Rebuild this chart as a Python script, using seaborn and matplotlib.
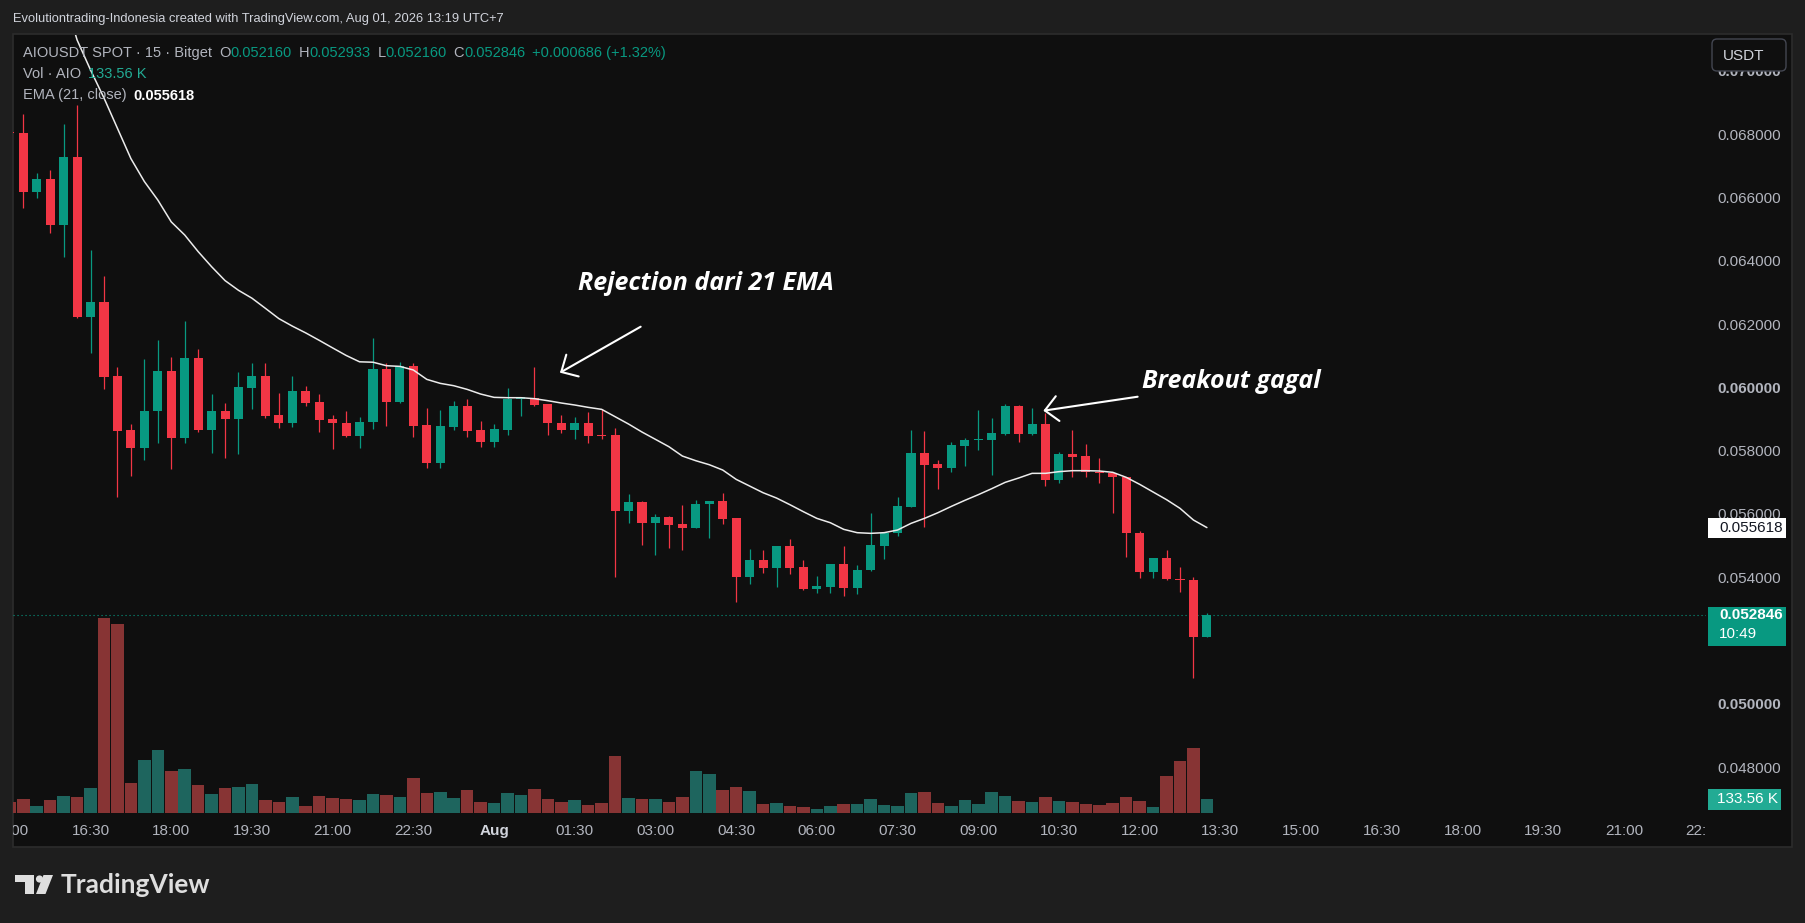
import numpy as np
import pandas as pd
import matplotlib
matplotlib.use("Agg")
import matplotlib.pyplot as plt
import seaborn as sns
from matplotlib.patches import Rectangle, FancyBboxPatch, Polygon, Circle

# ---------------- data (AIOUSDT 15m, Bitget) ----------------
start_time = "2026-07-31 15:00"
opens = [0.068110, 0.068074, 0.066231, 0.066631, 0.065177, 0.067336, 0.062281, 0.062745, 0.060406, 0.058700,
         0.058142, 0.059301, 0.060564, 0.058458, 0.060975, 0.058700, 0.059301, 0.059048, 0.060038, 0.060417,
         0.059174, 0.058911, 0.059933, 0.059575, 0.059048, 0.058932, 0.058521, 0.058943, 0.060628, 0.059596,
         0.060723, 0.058858, 0.057647, 0.058806, 0.059459, 0.058700, 0.058332, 0.058700, 0.059690, 0.059722,
         0.059522, 0.058932, 0.058700, 0.058911, 0.058543, 0.058543, 0.056152, 0.056426, 0.055772, 0.055941,
         0.055720, 0.055615, 0.056352, 0.056457, 0.055909, 0.054067, 0.054593, 0.054351, 0.055035, 0.054383,
         0.053688, 0.053750, 0.054456, 0.053698, 0.054277, 0.055046, 0.055436, 0.056278, 0.057963, 0.057615,
         0.057510, 0.058206, 0.058374, 0.058384, 0.058574, 0.059459, 0.058574, 0.058890, 0.057121, 0.057942,
         0.057878, 0.057384, 0.057352, 0.057226, 0.055436, 0.054224, 0.054646, 0.054003, 0.053961, 0.052160]
highs = [0.068200, 0.068685, 0.066810, 0.066915, 0.068369, 0.068969, 0.064388, 0.063566, 0.060701, 0.058879,
         0.060933, 0.061544, 0.061017, 0.062155, 0.061249, 0.059827, 0.059543, 0.060543, 0.060828, 0.060828,
         0.059859, 0.060417, 0.060091, 0.059827, 0.059174, 0.059301, 0.059101, 0.061597, 0.060807, 0.060859,
         0.060807, 0.059385, 0.059332, 0.059617, 0.059680, 0.058985, 0.058880, 0.060027, 0.059754, 0.060701,
         0.059522, 0.059174, 0.059122, 0.059280, 0.059364, 0.058753, 0.056678, 0.056450, 0.056046, 0.055983,
         0.056331, 0.056489, 0.056468, 0.056720, 0.055920, 0.054930, 0.054909, 0.055035, 0.055267, 0.054593,
         0.054088, 0.054456, 0.055035, 0.054435, 0.056088, 0.055450, 0.056594, 0.058700, 0.058679, 0.057752,
         0.058311, 0.058437, 0.059332, 0.059090, 0.059522, 0.059480, 0.059406, 0.059227, 0.057994, 0.058700,
         0.058258, 0.057826, 0.057370, 0.057230, 0.055510, 0.054650, 0.054909, 0.054361, 0.054067, 0.052933]
lows = [0.067950, 0.065704, 0.066041, 0.064935, 0.064177, 0.062250, 0.061144, 0.059996, 0.056573, 0.057257,
        0.057752, 0.058300, 0.057468, 0.058279, 0.058627, 0.057984, 0.057805, 0.057942, 0.059364, 0.059069,
        0.058774, 0.058806, 0.059469, 0.058648, 0.058100, 0.058490, 0.058142, 0.058732, 0.058827, 0.059543,
        0.058469, 0.057510, 0.057510, 0.058700, 0.058490, 0.058153, 0.058174, 0.058542, 0.059143, 0.059459,
        0.058542, 0.058595, 0.058427, 0.058300, 0.058416, 0.054067, 0.055772, 0.055067, 0.054751, 0.054962,
        0.054909, 0.055594, 0.055299, 0.055730, 0.053277, 0.053835, 0.054172, 0.053751, 0.054151, 0.053650,
        0.053540, 0.053560, 0.053467, 0.053519, 0.054250, 0.054614, 0.055352, 0.056260, 0.055646, 0.056836,
        0.057384, 0.057573, 0.058069, 0.057279, 0.058540, 0.058332, 0.058540, 0.056942, 0.057037, 0.057226,
        0.057205, 0.057037, 0.056088, 0.054698, 0.054035, 0.054014, 0.053960, 0.053592, 0.050854, 0.052160]
closes = [0.068070, 0.066231, 0.066631, 0.065177, 0.067336, 0.062281, 0.062745, 0.060385, 0.058679, 0.058142,
          0.059301, 0.060564, 0.058458, 0.060975, 0.058700, 0.059301, 0.059048, 0.060069, 0.060417, 0.059153,
          0.058911, 0.059933, 0.059564, 0.059016, 0.058911, 0.058521, 0.058943, 0.060628, 0.059596, 0.060733,
          0.058827, 0.057647, 0.058827, 0.059459, 0.058679, 0.058332, 0.058721, 0.059690, 0.059733, 0.059490,
          0.058932, 0.058700, 0.058911, 0.058511, 0.058511, 0.056152, 0.056426, 0.055772, 0.055941, 0.055699,
          0.055615, 0.056363, 0.056447, 0.055888, 0.054067, 0.054593, 0.054351, 0.055035, 0.054351, 0.053677,
          0.053772, 0.054456, 0.053698, 0.054277, 0.055067, 0.055436, 0.056299, 0.057963, 0.057594, 0.057510,
          0.058227, 0.058384, 0.058416, 0.058595, 0.059459, 0.058574, 0.058890, 0.057121, 0.057942, 0.057836,
          0.057384, 0.057331, 0.057205, 0.055436, 0.054224, 0.054646, 0.053982, 0.053961, 0.052160, 0.052846]
volumes_k = [107.5, 133.6, 65.2, 123.8, 162.9, 153.1, 241.1, 1902.4, 1843.8, 293.2,
             514.7, 612.4, 407.2, 430.0, 270.4, 182.4, 241.1, 250.8, 280.2, 123.8,
             104.2, 153.1, 65.2, 162.9, 143.3, 133.6, 123.8, 182.4, 172.7, 153.1,
             338.8, 192.2, 202.0, 143.3, 221.5, 104.2, 94.5, 192.2, 172.7, 231.3,
             133.6, 104.2, 123.8, 74.9, 94.5, 553.8, 143.3, 133.6, 133.6, 104.2,
             153.1, 407.2, 377.9, 221.5, 250.8, 211.7, 84.7, 94.5, 65.2, 55.4,
             35.8, 65.2, 84.7, 84.7, 133.6, 74.9, 65.2, 192.2, 202.0, 94.5,
             65.2, 123.8, 84.7, 202.0, 162.9, 114.0, 104.2, 153.1, 114.0, 104.2,
             84.7, 74.9, 94.5, 153.1, 114.0, 55.4, 358.3, 504.9, 632.0, 133.56]
ema21 = [0.075260, 0.074440, 0.073730, 0.072955, 0.072445, 0.071024, 0.070076, 0.069191, 0.068233, 0.067277,
         0.066553, 0.065968, 0.065277, 0.064863, 0.064338, 0.063861, 0.063422, 0.063115, 0.062866, 0.062546,
         0.062221, 0.061984, 0.061769, 0.061535, 0.061295, 0.061058, 0.060856, 0.060843, 0.060733, 0.060711,
         0.060597, 0.060301, 0.060175, 0.060101, 0.059985, 0.059838, 0.059733, 0.059722, 0.059722, 0.059691,
         0.059627, 0.059554, 0.059491, 0.059417, 0.059354, 0.059122, 0.058890, 0.058637, 0.058406, 0.058174,
         0.057879, 0.057731, 0.057605, 0.057437, 0.057142, 0.056931, 0.056720, 0.056552, 0.056341, 0.056120,
         0.055909, 0.055772, 0.055562, 0.055457, 0.055436, 0.055457, 0.055541, 0.055751, 0.055909, 0.056088,
         0.056288, 0.056478, 0.056657, 0.056847, 0.057047, 0.057184, 0.057332, 0.057332, 0.057385, 0.057416,
         0.057416, 0.057406, 0.057364, 0.057206, 0.056985, 0.056742, 0.056500, 0.056226, 0.055857, 0.055618]
time_tick_labels = ["15:00", "16:30", "18:00", "19:30", "21:00", "22:30", "Aug", "01:30", "03:00", "04:30",
                    "06:00", "07:30", "09:00", "10:30", "12:00", "13:30", "15:00", "16:30", "18:00", "19:30",
                    "21:00", "22:30"]
price_ticks = [0.048, 0.050, 0.052, 0.054, 0.056, 0.058, 0.060, 0.062, 0.064, 0.066, 0.068, 0.070]
bold_ticks = [0.050, 0.060, 0.070]
countdown = "10:49"
annot_rejection = "Rejection dari 21 EMA"
annot_breakout = "Breakout gagal"

# ---------------- style ----------------
W, H = 1805, 923
OUTER = "#1e1e1e"
PANEL = "#0f0f0f"
UP = "#089981"
DN = "#f23645"
VOL_UP = "#1e655e"
VOL_DN = "#873434"
SCALE_TXT = "#b2b5be"

sns.set_theme(style="dark", rc={"axes.facecolor": PANEL, "figure.facecolor": OUTER})
plt.rcParams["font.family"] = ["Liberation Sans", "DejaVu Sans"]

fig = plt.figure(figsize=(W / 100, H / 100), dpi=100, facecolor=OUTER)


def rect(x0, y0, x1, y1):
    return [x0 / W, 1 - y1 / H, (x1 - x0) / W, (y1 - y0) / H]


# background / frame (pixel coords, y downwards)
bg = fig.add_axes([0, 0, 1, 1], zorder=-5)
bg.set_xlim(0, W)
bg.set_ylim(H, 0)
bg.axis("off")
bg.add_patch(Rectangle((12.5, 33.5), 1791.5 - 12.5, 847 - 33.5, facecolor=PANEL,
                       edgecolor="#2c2c2c", lw=1.2))

PL, PT, PR, PB = 13, 35, 1706, 813
n = len(opens)
xpos = np.arange(n)
o = np.array(opens)
c = np.array(closes)
hi = np.array(highs)
lo = np.array(lows)
is_up = c >= o
XL = (PL - 9.85) / 13.45
XR = (PR - 9.85) / 13.45
YB, YT = 0.046600, 0.071182

# ---- volume (seaborn barplot) ----
ax_vol = fig.add_axes(rect(PL, PT, PR, PB), zorder=1)
ax_vol.patch.set_visible(False)
times = pd.date_range(start_time, periods=n, freq="15min")
df = pd.DataFrame({"time": times.strftime("%Y-%m-%d %H:%M"),
                   "volume": volumes_k,
                   "dir": np.where(is_up, "up", "down")})
sns.barplot(data=df, x="time", y="volume", hue="dir", order=list(df["time"]),
            palette={"up": VOL_UP, "down": VOL_DN}, dodge=False, width=0.93,
            saturation=1, errorbar=None, legend=False, linewidth=0, ax=ax_vol)
ax_vol.set_xlim(XL, XR)
ax_vol.set_ylim(0, 7600)
ax_vol.axis("off")

# ---- candles + EMA ----
ax = fig.add_axes(rect(PL, PT, PR, PB), zorder=2)
ax.patch.set_visible(False)
cols = np.where(is_up, UP, DN)
body_lo = np.minimum(o, c)
body_h = np.maximum(np.abs(c - o), 3.3e-5)
ax.vlines(xpos, lo, hi, colors=cols, linewidth=0.9, zorder=2)
ax.bar(xpos, body_h, bottom=body_lo, width=0.67, color=cols, linewidth=0, zorder=3)
sns.lineplot(x=xpos, y=ema21, ax=ax, color="#ececec", linewidth=1.1, zorder=4, legend=False)
ax.axhline(c[-1], color=UP, linewidth=0.8, linestyle=(0, (1, 2.6)), zorder=1)
ax.set_xlim(XL, XR)
ax.set_ylim(YB, YT)
ax.axis("off")

# annotations
afont = dict(family=["Open Sans", "DejaVu Sans"], weight="bold", style="italic", size=18, color="white")
ax.text(42.27, 0.06334, annot_rejection, va="center", ha="left", **afont)
ax.annotate("", xy=(40.90, 0.060512), xytext=(46.90, 0.061965),
            arrowprops=dict(arrowstyle="->,head_length=0.62,head_width=0.6", color="white",
                            lw=1.5, shrinkA=0, shrinkB=0, mutation_scale=15))
ax.text(84.20, 0.060227, annot_breakout, va="center", ha="left", **afont)
ax.annotate("", xy=(76.84, 0.059311), xytext=(83.85, 0.059753),
            arrowprops=dict(arrowstyle="->,head_length=0.62,head_width=0.6", color="white",
                            lw=1.5, shrinkA=0, shrinkB=0, mutation_scale=15))

# ---- time axis ----
ax_t = fig.add_axes(rect(PL, PB, PR, 847), zorder=2)
ax_t.patch.set_visible(False)
ax_t.set_xlim(XL, XR)
ax_t.set_ylim(0, 1)
ax_t.axis("off")
for pos, lab in zip(range(0, 6 * len(time_tick_labels), 6), time_tick_labels):
    bold = lab == "Aug"
    ax_t.text(pos, 0.48, lab, ha="center", va="center", fontsize=11,
              color="#d1d4dc" if bold else SCALE_TXT, fontweight="bold" if bold else "normal",
              clip_on=True)

# ---- price scale ----
ax_ps = fig.add_axes(rect(PR, PT, 1791, PB), zorder=2)
ax_ps.patch.set_visible(False)
ax_ps.set_xlim(PR, 1791)
ax_ps.set_ylim(YB, YT)
ax_ps.axis("off")
for p in price_ticks:
    ax_ps.text(1717.5, p, f"{p:.6f}", ha="left", va="center", fontsize=11,
               color=SCALE_TXT, fontweight="bold" if any(abs(p - b) < 1e-9 for b in bold_ticks) else "normal")

# ---- foreground overlay (pixel coords) ----
fg = fig.add_axes([0, 0, 1, 1], zorder=10)
fg.set_xlim(0, W)
fg.set_ylim(H, 0)
fg.axis("off")
fig.canvas.draw()


def py(axis, val):
    return H - axis.transData.transform((0, val))[1]


# USDT box
fg.add_patch(FancyBboxPatch((1712, 39), 74, 32, boxstyle="round,pad=0,rounding_size=5",
                            facecolor=PANEL, edgecolor="#434651", lw=1.0))
fg.text(1723, 55.5, "USDT", ha="left", va="center", fontsize=11, color="#d1d4dc")

# EMA value box
ye = py(ax, ema21[-1])
fg.add_patch(Rectangle((1708, ye - 10), 78, 20, facecolor="white", lw=0))
fg.text(1719, ye, f"{ema21[-1]:.6f}", ha="left", va="center", fontsize=11, color="#131722")

# last price box
yc = py(ax, c[-1])
fg.add_patch(Rectangle((1708, yc - 8.5), 78, 39, facecolor=UP, lw=0))
fg.text(1719, yc, f"{c[-1]:.6f}", ha="left", va="center", fontsize=11, color="white", fontweight="bold")
fg.text(1719, yc + 18.5, countdown, ha="left", va="center", fontsize=11, color="white")

# volume box
yv = py(ax_vol, volumes_k[-1])
fg.add_patch(Rectangle((1708, yv - 10.5), 73, 21, facecolor="#22ab94", lw=0))
fg.text(1717, yv, f"{volumes_k[-1]:.2f} K", ha="left", va="center", fontsize=11, color="white")

# title
fg.text(13, 19, "Evolutiontrading-Indonesia created with TradingView.com, Aug 01, 2026 13:19 UTC+7",
        ha="left", va="center", fontsize=9.3, color="#d1d4dc")

# legend rows
renderer = fig.canvas.get_renderer()


def seq_text(x, y, parts, size=10.5):
    for s, color, weight, gap in parts:
        t = fg.text(x, y, s, ha="left", va="center", fontsize=size, color=color, fontweight=weight)
        bb = t.get_window_extent(renderer=renderer)
        x += bb.width + gap


chg = c[-1] - c[-2]
pct = chg / c[-2] * 100
G = "#b2b5be"
seq_text(23, 53, [("AIOUSDT SPOT · 15 · Bitget", G, "normal", 7),
                  ("O", G, "normal", 0), (f"{o[-1]:.6f}", UP, "normal", 7),
                  ("H", G, "normal", 0), (f"{hi[-1]:.6f}", UP, "normal", 7),
                  ("L", G, "normal", 0), (f"{lo[-1]:.6f}", UP, "normal", 7),
                  ("C", G, "normal", 0), (f"{c[-1]:.6f}", UP, "normal", 7),
                  (f"+{chg:.6f} (+{pct:.2f}%)", UP, "normal", 0)])
seq_text(23, 74.5, [("Vol · AIO", G, "normal", 7), (f"{volumes_k[-1]:.2f} K", "#22ab94", "normal", 0)])
seq_text(23, 95.5, [("EMA (21, close)", G, "normal", 7), (f"{ema21[-1]:.6f}", "white", "bold", 0)])

# TradingView logo
logo_c = "#dedede"
fg.add_patch(Polygon([(15, 875), (33.5, 875), (33.5, 894), (24.5, 894), (24.5, 881.5), (15, 881.5)],
                     closed=True, facecolor=logo_c, lw=0))
fg.add_patch(Circle((39.5, 879), 3.6, facecolor=logo_c, lw=0))
fg.add_patch(Polygon([(43.5, 875), (53, 875), (45.5, 894), (36, 894)], closed=True, facecolor=logo_c, lw=0))
fg.text(61, 885, "TradingView", ha="left", va="center", fontsize=19, fontweight="bold",
        family=["Lato", "DejaVu Sans"], color=logo_c)

fig.savefig("out.png", dpi=100, facecolor=OUTER)
